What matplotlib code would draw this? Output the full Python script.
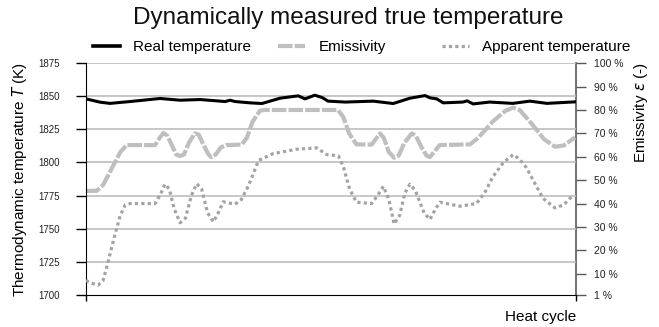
"""
Real vs apparent temperature over a heat cycle, with the emissivity trace
on a secondary axis.
"""
import matplotlib
matplotlib.use("Agg")
import matplotlib.pyplot as plt
from matplotlib.lines import Line2D

plt.rcParams.update({
    "font.family": ["Liberation Sans", "DejaVu Sans"],
    "font.size": 11,
})

# real (thermodynamic) temperature, K
real_x = [0, 2.9, 4.9, 9, 15.1, 19.2, 23.3, 28.4, 29.4, 30.4, 33.5, 35.9,
          39.6, 43.3, 44.7, 46.7, 48.2, 49.4, 52.9, 58.6, 62.7, 66.1, 69.2,
          70.2, 71.6, 72.9, 76.9, 77.8, 79, 82.4, 87.1, 90.6, 94.1, 100]
real_t = [1848, 1845.5, 1844.6, 1846, 1848.3, 1847, 1847.5, 1846, 1847,
          1846, 1845, 1844.5, 1848.5, 1850.3, 1848, 1850.8, 1849, 1846.3,
          1845.6, 1846.3, 1844.5, 1848.5, 1850.5, 1848.8, 1848, 1845,
          1845.6, 1846.5, 1844.2, 1845.6, 1844.6, 1846.3, 1844.6, 1845.8]

# emissivity, %
emis_x = [0, 2.2, 3.5, 5.5, 7, 8.3, 14.1, 15, 15.8, 16.6, 17.5, 18.4, 19.2,
          20, 21, 22.2, 23, 24, 25, 25.6, 26.5, 27.5, 28.7, 31.8, 32.8, 34,
          35.5, 36.5, 51.4, 52.5, 53.7, 55.2, 58.3, 59.3, 60, 60.8, 61.8,
          62.9, 63.8, 65, 66.5, 67.3, 68.5, 69.5, 70.2, 71, 72.2, 78.4, 80,
          83, 85.5, 87.2, 88.5, 91, 93.5, 95.7, 97.5, 99.8]
emis_v = [45.4, 45.5, 48, 56, 62, 65, 65, 68, 70.2, 69, 65, 61, 60.3, 61,
          66, 70, 69.5, 65, 61, 59.8, 61, 64, 65, 65.2, 68, 75, 79.7, 80, 80,
          77, 70, 65.3, 65.2, 68, 70, 68, 62, 59.6, 60.5, 66, 70, 69, 64,
          60.5, 59.9, 62, 65, 65.3, 68, 75, 79.5, 81, 80, 74, 67.5, 64.3,
          64.8, 68.3]

# apparent temperature, K
app_x = [0, 1, 2.5, 3.5, 4.5, 5.8, 7, 8, 9, 14.1, 15.2, 16.1, 17, 18, 19.2,
         20.3, 21.5, 22.6, 23.6, 24.8, 26, 27, 28, 30.4, 31.7, 33.1, 34.2,
         35.2, 38.2, 43, 47.1, 49.1, 51.5, 52.5, 53.8, 55.2, 58.3, 59.5,
         60.7, 61.8, 62.9, 64, 65.1, 66.1, 67.2, 69, 70.2, 71.2, 72.2, 76.3,
         79.7, 81.5, 83, 85.2, 87.2, 88.6, 89.9, 91.5, 93.3, 95.7, 97.5, 99.4]
app_t = [1711, 1709, 1707.5, 1711, 1725, 1744, 1760, 1768, 1769, 1769,
         1776, 1783.6, 1780, 1765, 1754.5, 1758, 1775, 1784, 1780, 1762,
         1755.2, 1762, 1770.3, 1768.5, 1772, 1782, 1792, 1801.5, 1806.7,
         1810, 1811, 1806, 1805, 1797, 1780, 1770, 1769, 1775, 1782, 1772,
         1753.5, 1760, 1777, 1783.6, 1779, 1762, 1757, 1764, 1770, 1767,
         1769, 1778, 1789, 1800, 1806, 1802, 1796, 1785, 1772.8, 1765.7,
         1768, 1775.3]

t_ticks = [1700, 1725, 1750, 1775, 1800, 1825, 1850, 1875]
e_ticks = [1, 10, 20, 30, 40, 50, 60, 70, 80, 90, 100]
e_labels = [f"{v} %" for v in e_ticks]

REAL_C = "black"
EMIS_C = "#bfbfbf"
APP_C = "#a3a3a3"
GRID_C = "#bdbdbd"
EMIS_LS = (0, (3.5, 0.5))
APP_LS = (0, (1, 1))


def main():
    fig = plt.figure(figsize=(6.59, 3.27), dpi=100)
    ax = fig.add_axes([0.1305, 0.098, 0.7435, 0.709])
    ax2 = ax.twinx()

    for v in t_ticks[1:]:
        ax.axhline(v, color=GRID_C, lw=1.2, zorder=0)

    ax.plot(app_x, app_t, color=APP_C, lw=2.3, linestyle=APP_LS,
            dash_capstyle="butt", zorder=3)
    ax2.plot(emis_x, emis_v, color=EMIS_C, lw=3.0, linestyle=EMIS_LS,
             dash_capstyle="butt", zorder=3)
    ax.plot(real_x, real_t, color=REAL_C, lw=2.2, zorder=4)
    ax.set_zorder(ax2.get_zorder() + 1)
    ax.patch.set_visible(False)

    ax.set_xlim(0, 100)
    ax.set_ylim(1700, 1875)
    ax.set_yticks(t_ticks)
    ax.set_xticks([0, 100])
    ax.set_xticklabels([])
    ax.tick_params(axis="x", length=4, width=1, color="black")
    ax.tick_params(axis="y", length=7, width=1, pad=12, labelsize=7,
                   color="black", labelcolor="#222222")
    ax2.set_ylim(1, 100)
    ax2.set_yticks(e_ticks)
    ax2.set_yticklabels(e_labels)
    ax2.tick_params(axis="y", length=7, width=1, pad=6, labelsize=7.5,
                    color="#595959", labelcolor="#222222")

    for a in (ax, ax2):
        a.spines["top"].set_visible(False)
    ax.spines["left"].set_color("black")
    ax.spines["bottom"].set_color("black")
    ax.spines["right"].set_visible(False)
    ax2.spines["left"].set_visible(False)
    ax2.spines["bottom"].set_visible(False)
    ax2.spines["right"].set_color("#595959")
    ax2.spines["right"].set_linewidth(1.2)

    fig.text(0.529, 0.945, "Dynamically measured true temperature",
             ha="center", va="center", fontsize=17.5, color="#111111")
    fig.text(0.03, 0.45, "Thermodynamic temperature $\\mathit{T}$ (K)",
             rotation=90, ha="center", va="center", fontsize=11)
    fig.text(0.972, 0.81, "Emissivity $\\mathit{\\epsilon}$ (-)",
             rotation=90, ha="center", va="top", fontsize=11)
    fig.text(0.874, 0.03, "Heat cycle", ha="right", va="center",
             fontsize=11)

    # legend entries placed one by one: the gaps between them are uneven
    entries = [
        (Line2D([], [], color=REAL_C, lw=2.6), "Real temperature", 93),
        (Line2D([], [], color=EMIS_C, lw=3.0, linestyle=EMIS_LS,
                dash_capstyle="butt"), "Emissivity", 278),
        (Line2D([], [], color=APP_C, lw=2.3, linestyle=APP_LS,
                dash_capstyle="butt"), "Apparent temperature", 442),
    ]
    for handle, label, x_px in entries:
        fig.legend([handle], [label], frameon=False, loc="center left",
                   bbox_to_anchor=(x_px / 659, 0.856), fontsize=11,
                   handlelength=1.75, handletextpad=0.9,
                   borderpad=0, borderaxespad=0)

    fig.savefig("out.png", dpi=100)
    plt.close(fig)


if __name__ == "__main__":
    main()
